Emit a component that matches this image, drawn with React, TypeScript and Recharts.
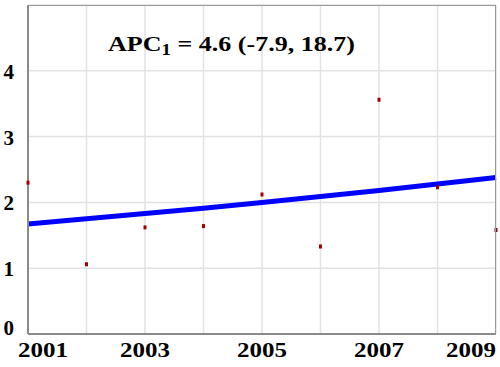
import React from 'react';
import { ComposedChart, Line, Scatter, XAxis, YAxis, CartesianGrid } from 'recharts';

const years = [2001, 2002, 2003, 2004, 2005, 2006, 2007, 2008, 2009];
const observed = [2.3, 1.06, 1.62, 1.64, 2.12, 1.33, 3.56, 2.23, 1.58];
const fitted = [1.67, 1.75, 1.83, 1.91, 2.0, 2.09, 2.18, 2.28, 2.38];
const yTicks = [0, 1, 2, 3, 4];
const labelledYears = [2001, 2003, 2005, 2007, 2009];

const data = years.map((year, i) => ({ year, rate: observed[i], fit: fitted[i] }));

const serif = { fontFamily: "'Liberation Serif', 'DejaVu Serif', serif", fontWeight: 700 };

const XTick = (props: any) => {
  const { x, payload } = props;
  const v = payload.value;
  if (!labelledYears.includes(v)) return null;
  // edge labels are pushed inward so they stay on the canvas
  let cx = x;
  if (v === years[0]) cx = x + 15;
  if (v === years[years.length - 1]) cx = x - 25;
  return (
    <text x={cx} y={357} textAnchor="middle" style={serif}
      fontSize={21} fill="#000" textLength={50} lengthAdjust="spacingAndGlyphs">
      {v}
    </text>
  );
};

const YTick = (props: any) => {
  const { x, y, payload } = props;
  const dy = payload.value === 0 ? -7 : 0;
  return (
    <text x={x - 6} y={y + 8 + dy} textAnchor="end" style={serif}
      fontSize={21} fill="#000">
      {payload.value}
    </text>
  );
};

const Dot = (props: any) => {
  const { cx, cy } = props;
  return <rect x={cx - 1.5} y={cy - 2} width={3} height={4} fill="#a00000" />;
};

export default function App() {
  return (
    <div style={{ position: 'absolute', left: 0, top: 0, width: 500, height: 367, background: '#fff' }}>
      <ComposedChart width={500} height={367} data={data}
        margin={{ top: 5, right: 4, bottom: 0, left: 0 }}>
        <CartesianGrid stroke="#e2e2e2" strokeWidth={1.5} />
        <XAxis dataKey="year" type="number" domain={[2001, 2009]} ticks={years}
          tick={<XTick />} tickLine={false} axisLine={{ stroke: '#8a8a8a', strokeWidth: 2 }}
          height={33} interval={0} />
        <YAxis type="number" domain={[0, 5]} ticks={yTicks} tick={<YTick />} tickLine={false}
          axisLine={{ stroke: '#8a8a8a', strokeWidth: 2 }} width={28} interval={0} />
        <Line dataKey="fit" stroke="#0000ff" strokeWidth={5} dot={false} isAnimationActive={false} />
        <Scatter dataKey="rate" shape={<Dot />} isAnimationActive={false} />
      </ComposedChart>
      <div style={{ position: 'absolute', left: 28, top: 5, width: 468, height: 329,
        borderTop: '1px solid #999', borderRight: '1px solid #999', boxSizing: 'border-box', pointerEvents: 'none' }} />
      <svg width={500} height={80} style={{ position: 'absolute', left: 0, top: 0, pointerEvents: 'none' }}>
        <text x={108} y={51} style={serif} fontSize={22} fill="#000"
          textLength={247} lengthAdjust="spacingAndGlyphs">
          APC<tspan fontSize={16} dy={4}>1</tspan><tspan dy={-4}> = 4.6 (-7.9, 18.7)</tspan>
        </text>
      </svg>
    </div>
  );
}
